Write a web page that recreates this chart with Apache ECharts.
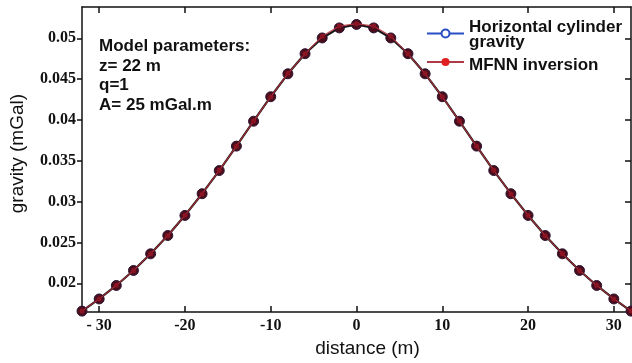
<!DOCTYPE html>
<html>
<head>
<meta charset="utf-8">
<script src="https://cdn.jsdelivr.net/npm/echarts@6/dist/echarts.min.js"></script>
<style>
  html, body { margin: 0; padding: 0; background: #fff; }
  #chart { width: 632px; height: 363px; }
</style>
</head>
<body>
<div id="chart"></div>
<script>
const distance = [-32, -30, -28, -26, -24, -22, -20, -18, -16, -14, -12, -10, -8, -6, -4, -2, 0,
  2, 4, 6, 8, 10, 12, 14, 16, 18, 20, 22, 24, 26, 28, 30, 32];
const cylinderGravity = [0.01659, 0.01808, 0.01973, 0.02157, 0.02361, 0.02585, 0.02831, 0.03097,
  0.03381, 0.0368, 0.03985, 0.04285, 0.04566, 0.04812, 0.05005, 0.05128, 0.0517,
  0.05128, 0.05005, 0.04812, 0.04566, 0.04285, 0.03985, 0.0368, 0.03381, 0.03097,
  0.02831, 0.02585, 0.02361, 0.02157, 0.01973, 0.01808, 0.01659];
const mfnnGravity = [0.01662, 0.01806, 0.01975, 0.02155, 0.02363, 0.02583, 0.02833, 0.03095,
  0.03383, 0.03678, 0.03987, 0.04283, 0.04568, 0.0481, 0.05025, 0.0515, 0.0518,
  0.0515, 0.05025, 0.0481, 0.04568, 0.04283, 0.03987, 0.03678, 0.03383, 0.03095,
  0.02833, 0.02583, 0.02363, 0.02155, 0.01975, 0.01806, 0.01662];
const xTicks = [-30, -20, -10, 0, 10, 20, 30];
const yTicks = [0.02, 0.025, 0.03, 0.035, 0.04, 0.045, 0.05];

const pairs = (ys) => distance.map((x, i) => [x, ys[i]]);

const chart = echarts.init(document.getElementById("chart"));

const tickFont = {
  fontFamily: "Liberation Serif",
  fontWeight: "bold",
  fontSize: 16,
  color: "#111",
};
const legendFont = {
  fontFamily: "Liberation Sans",
  fontWeight: "bold",
  fontSize: 17,
  color: "#111",
  lineHeight: 17,
};
const axisLine = { show: true, onZero: false, lineStyle: { color: "#111", width: 1.5 } };
const tickLine = { color: "#111", width: 1.5 };

chart.setOption({
  animation: false,
  grid: { left: 80, right: 1, top: 7, bottom: 43 },
  legend: {
    orient: "vertical",
    left: 426,
    top: 14,
    padding: 0,
    itemWidth: 37,
    itemHeight: 10,
    itemGap: 0,
    textStyle: {
      ...legendFont,
      rich: {
        t: { ...legendFont, padding: [5, 0, 0, 0] },
        b: { ...legendFont },
        m: { ...legendFont, padding: [6, 0, 0, 0] },
      },
    },
    data: [
      {
        name: "Horizontal cylinder gravity",
        itemStyle: { color: "#fff", borderColor: "#2a4fc4", borderWidth: 2 },
        lineStyle: { color: "#2a4fc4", width: 2 },
      },
      {
        name: "MFNN inversion",
        itemStyle: { color: "#e02020", borderWidth: 0 },
        lineStyle: { color: "#a01828", width: 2 },
      },
    ],
    formatter: (name) =>
      name === "Horizontal cylinder gravity" ? "{t|Horizontal cylinder}\n{b|gravity}" : "{m|" + name + "}",
  },
  graphic: [
    {
      type: "text",
      left: 99,
      top: 37,
      style: {
        text: "Model parameters:\nz= 22 m\nq=1\nA= 25 mGal.m",
        font: "bold 17px 'Liberation Sans'",
        lineHeight: 19.5,
        fill: "#111",
      },
    },
  ],
  xAxis: [
    {
      type: "value",
      min: -32,
      max: 32,
      name: "distance (m)",
      nameLocation: "middle",
      nameGap: 16,
      nameTextStyle: {
        fontFamily: "Liberation Sans",
        fontSize: 19,
        color: "#111",
        padding: [0, 0, 0, 22],
      },
      axisLine: axisLine,
      axisTick: { show: true, inside: true, length: 6, customValues: xTicks, lineStyle: tickLine },
      axisLabel: {
        ...tickFont,
        margin: 6,
        customValues: xTicks,
        formatter: (v) => (v === -30 ? "- 30" : String(v)),
      },
      splitLine: { show: false },
    },
    {
      type: "value",
      position: "top",
      min: -32,
      max: 32,
      axisLine: axisLine,
      axisTick: { show: true, inside: true, length: 6, customValues: xTicks, lineStyle: tickLine },
      axisLabel: { show: false },
      splitLine: { show: false },
    },
  ],
  yAxis: [
    {
      type: "value",
      min: 0.01647,
      max: 0.05384,
      name: "gravity (mGal)",
      nameLocation: "middle",
      nameGap: 55,
      nameRotate: 90,
      nameTextStyle: {
        fontFamily: "Liberation Sans",
        fontSize: 19,
        color: "#111",
        padding: [0, 0, 0, 12],
      },
      axisLine: axisLine,
      axisTick: { show: true, inside: false, length: 5, customValues: yTicks, lineStyle: tickLine },
      axisLabel: { ...tickFont, margin: 6, customValues: yTicks },
      splitLine: { show: false },
    },
    {
      type: "value",
      position: "right",
      min: 0.01647,
      max: 0.05384,
      axisLine: axisLine,
      axisTick: { show: true, inside: true, length: 6, customValues: yTicks, lineStyle: tickLine },
      axisLabel: { show: false },
      splitLine: { show: false },
    },
  ],
  series: [
    {
      name: "Horizontal cylinder gravity",
      type: "line",
      data: pairs(cylinderGravity),
      symbol: "circle",
      symbolSize: 10,
      lineStyle: { color: "#161616", width: 2.2 },
      itemStyle: { color: "#4a0d1c", borderColor: "#2a1432", borderWidth: 1 },
      z: 2,
    },
    {
      name: "MFNN inversion",
      type: "line",
      data: pairs(mfnnGravity),
      symbol: "circle",
      symbolSize: 5,
      lineStyle: { color: "#b8303c", width: 1.2, opacity: 0.85 },
      itemStyle: { color: "#8a1424" },
      z: 3,
    },
  ],
});
</script>
</body>
</html>
